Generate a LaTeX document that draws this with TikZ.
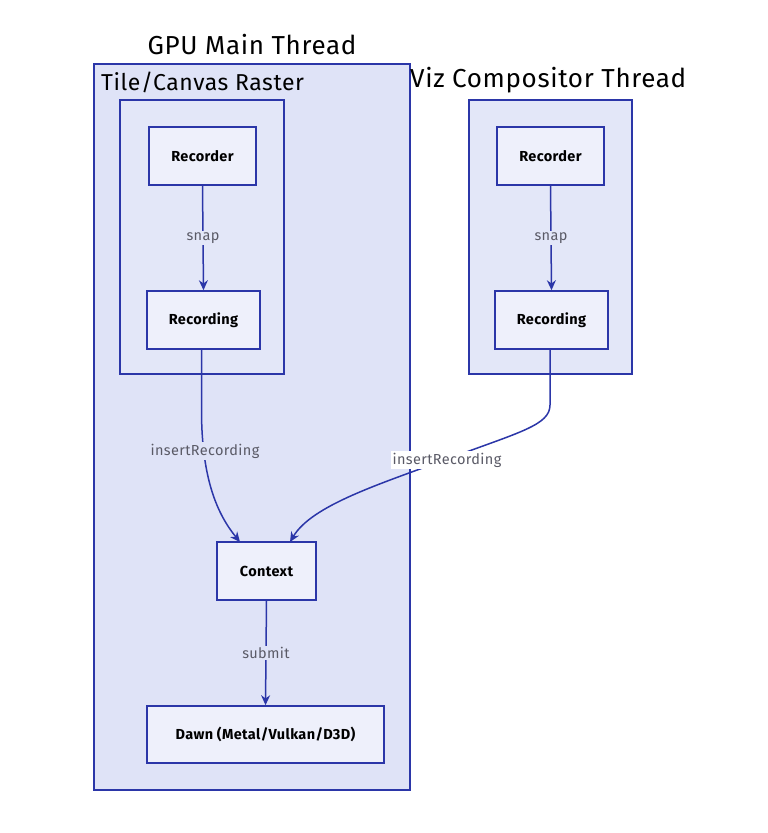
\documentclass[tikz,border=0pt]{standalone}
\usepackage{fontspec}
\setmainfont{Fira Sans}
\newfontfamily\wideface[LetterSpace=2.5]{Fira Sans}
\usetikzlibrary{arrows.meta}
\definecolor{edgeblue}{HTML}{2B36A8}
\definecolor{outerfill}{HTML}{DFE3F7}
\definecolor{innerfill}{HTML}{E3E7F8}
\definecolor{boxfill}{HTML}{EEF0FB}
\definecolor{lblgray}{HTML}{5A5A66}
\tikzset{
  x=1pt,y=1pt,
  group/.style={draw=edgeblue, line width=1.6pt, fill=outerfill},
  subgroup/.style={draw=edgeblue, line width=1.6pt, fill=innerfill},
  procbox/.style={draw=edgeblue, line width=1.6pt, fill=boxfill, font=\wideface\bfseries\fontsize{14.5}{17}\selectfont, text=black},
  title/.style={font=\wideface\fontsize{26}{30}\selectfont, text=black, inner sep=0pt},
  conn/.style={draw=edgeblue, line width=1.5pt, -{Stealth[length=10pt,width=9pt]}},
  elabel/.style={font=\wideface\fontsize{14.5}{17}\selectfont, text=lblgray, inner sep=1.5pt},
}
\begin{document}
\begin{tikzpicture}
\useasboundingbox (0,0) rectangle (768,-833);
\fill[white] (0,0) rectangle (768,-833);
% outer groups
\node[group, minimum width=316pt, minimum height=726pt, inner sep=0pt] (gpu) at (252,-427) {};
\node[title, anchor=south] (gputitle) at (252,-55) {GPU Main Thread};
\node[title, anchor=north west, font=\wideface\fontsize{23}{27}\selectfont] (tiletitle) at (101,-72) {Tile/Canvas Raster};
\node[subgroup, minimum width=164pt, minimum height=274pt, inner sep=0pt] (tile) at (202,-237) {};
\node[subgroup, minimum width=163pt, minimum height=274pt, inner sep=0pt] (viz) at (550.5,-237) {};
\node[title, anchor=north west] (viztitle) at (410,-67) {Viz Compositor Thread};
% boxes
\node[procbox, minimum width=107pt, minimum height=58pt] (recorderL) at (202.5,-156) {Recorder};
\node[procbox, minimum width=113pt, minimum height=58pt] (recordingL) at (203.5,-320) {Recording};
\node[procbox, minimum width=107pt, minimum height=58pt] (recorderR) at (550.5,-156) {Recorder};
\node[procbox, minimum width=113pt, minimum height=58pt] (recordingR) at (551.5,-320) {Recording};
\node[procbox, minimum width=99pt, minimum height=58pt] (context) at (266.5,-571) {Context};
\node[procbox, minimum width=237pt, minimum height=57pt] (dawn) at (265.5,-734.5) {Dawn (Metal/Vulkan/D3D)};
% connectors
\draw[conn] (recorderL.south) -- (recordingL.north) node[pos=0.5, elabel, fill=innerfill] {snap};
\draw[conn] (recorderR.south) -- (recordingR.north) node[pos=0.5, elabel, fill=innerfill] {snap};
\coordinate (ctxL) at (240,-542);
\coordinate (ctxR) at (290,-542);
\coordinate (bendL) at (201.5,-410);
\coordinate (bendR) at (550,-405);
\draw[conn] (recordingL.south -| bendL) -- (bendL) .. controls (201.5,-480) and (218,-515) .. (ctxL);
\draw[conn] (recordingR.south -| bendR) -- (bendR) .. controls (550,-425) and (520,-432) .. (450,-458) .. controls (380,-484) and (312,-505) .. (ctxR);
\node[elabel, fill=outerfill] (lblL) at (205,-451) {insertRecording};
\node[elabel, fill=white] (lblR) at (447,-460) {insertRecording};
\draw[conn] (context.south) -- (dawn.north) node[pos=0.5, elabel, fill=outerfill] {submit};
\end{tikzpicture}
\end{document}
